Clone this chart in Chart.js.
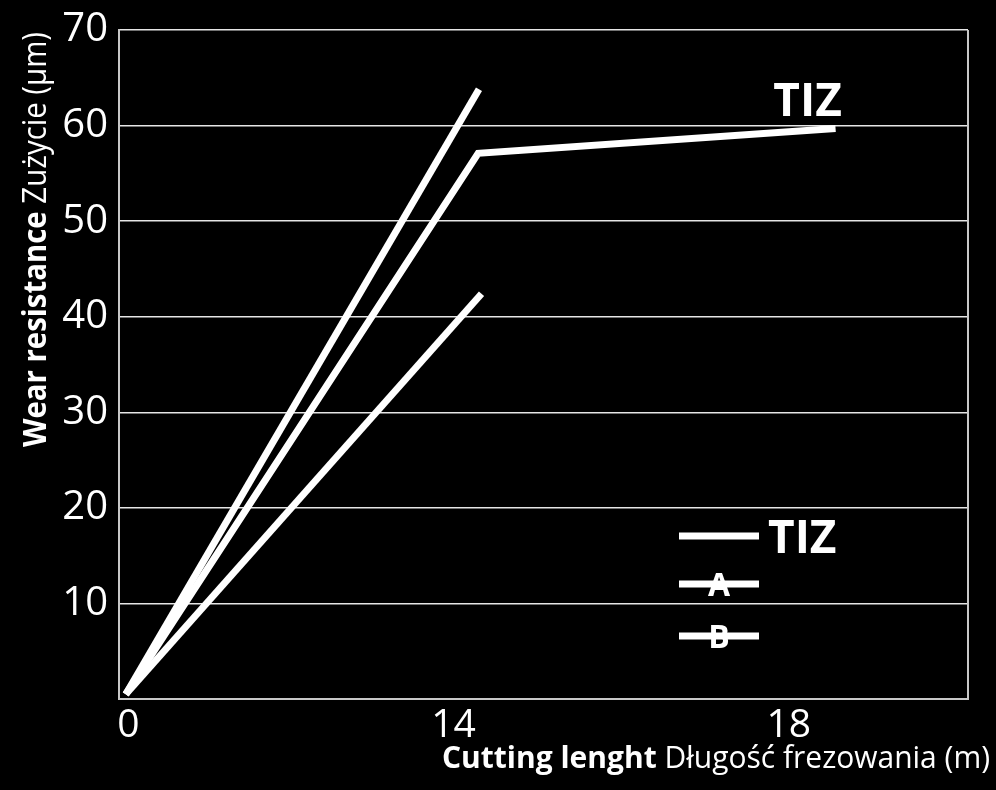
<!DOCTYPE html>
<html><head><meta charset="utf-8">
<script src="https://cdn.jsdelivr.net/npm/chart.js@4"></script>
<style>html,body{margin:0;padding:0;background:#000;} canvas{display:block;background:#000;}</style>
</head><body>
<canvas id="c" width="996" height="790"></canvas>
<script>
// ---- data ----
const seriesNames = ['TIZ', 'A', 'B'];
const tizX = [0.8, 42.3, 84.4];
const tizY = [0.5, 57.1, 59.7];
const aX = [0.8, 42.4];
const aY = [0.5, 63.8];
const bX = [0.8, 42.7];
const bY = [0.5, 42.4];
const yTicks = [10, 20, 30, 40, 50, 60, 70];
const xTickPos = [1.1, 39.4, 78.9];
const xTickLabels = ['0', '14', '18'];
const xTitleBold = 'Cutting lenght';
const xTitleRegular = ' Długość frezowania (m)';
const yTitleBold = 'Wear resistance';
const yTitleRegular = ' Zużycie (µm)';

const FONT = '"Open Sans", "DejaVu Sans", sans-serif';
const toPts = (xs, ys) => xs.map((x, i) => ({ x: x, y: ys[i] }));

const lineStyle = {
  borderColor: '#ffffff', borderWidth: 7, pointRadius: 0, showLine: true,
  tension: 0, borderCapStyle: 'butt', borderJoinStyle: 'miter', fill: false
};

const decor = {
  id: 'decor',
  afterDraw(chart) {
    const ctx = chart.ctx, a = chart.chartArea;
    ctx.save();
    // right border
    ctx.strokeStyle = '#c8c8c8'; ctx.lineWidth = 2;
    ctx.beginPath(); ctx.moveTo(a.right, a.top); ctx.lineTo(a.right, a.bottom); ctx.stroke();
    ctx.fillStyle = '#ffffff';
    ctx.textBaseline = 'alphabetic';

    // x title
    ctx.save();
    ctx.font = '700 31px ' + FONT; const wb = ctx.measureText(xTitleBold).width;
    ctx.font = '400 31px ' + FONT; const wr = ctx.measureText(xTitleRegular).width;
    ctx.translate(442, 768); ctx.scale(548 / (wb + wr), 1);
    ctx.font = '700 31px ' + FONT; ctx.fillText(xTitleBold, 0, 0);
    ctx.font = '400 31px ' + FONT; ctx.fillText(xTitleRegular, wb, 0);
    ctx.restore();

    // y title
    ctx.save();
    ctx.font = '700 33px ' + FONT; const yb = ctx.measureText(yTitleBold).width;
    ctx.font = '400 33px ' + FONT; const yr = ctx.measureText(yTitleRegular).width;
    ctx.translate(46, 447); ctx.rotate(-Math.PI / 2); ctx.scale(415 / (yb + yr), 1);
    ctx.font = '700 33px ' + FONT; ctx.fillText(yTitleBold, 0, 0);
    ctx.font = '400 33px ' + FONT; ctx.fillText(yTitleRegular, yb, 0);
    ctx.restore();

    // inline label at end of TIZ line
    const meta = chart.getDatasetMeta(0);
    const endPt = meta.data[meta.data.length - 1];
    ctx.font = '700 46px ' + FONT; ctx.textAlign = 'center';
    ctx.fillText(chart.data.datasets[0].label, endPt.x - 28, endPt.y - 12);

    // legend
    const rows = [536, 584, 636];
    chart.data.datasets.forEach((ds, i) => {
      const y = rows[i];
      ctx.strokeStyle = ds.borderColor; ctx.lineWidth = 7; ctx.lineCap = 'butt';
      ctx.beginPath(); ctx.moveTo(679, y); ctx.lineTo(759, y); ctx.stroke();
      if (i === 0) {
        ctx.textAlign = 'left'; ctx.font = '700 46px ' + FONT;
        ctx.fillText(ds.label, 768, y + 17);
      } else {
        ctx.textAlign = 'center'; ctx.font = '700 32px ' + FONT;
        ctx.fillText(ds.label, 719, y + 12);
      }
    });
    ctx.restore();
  }
};

new Chart(document.getElementById('c'), {
  type: 'scatter',
  data: {
    datasets: [
      Object.assign({ label: seriesNames[0], data: toPts(tizX, tizY) }, lineStyle),
      Object.assign({ label: seriesNames[1], data: toPts(aX, aY) }, lineStyle),
      Object.assign({ label: seriesNames[2], data: toPts(bX, bY) }, lineStyle)
    ]
  },
  options: {
    responsive: false, animation: false,
    layout: { padding: { left: 0, top: 30, right: 28, bottom: 0 } },
    plugins: { legend: { display: false }, tooltip: { enabled: false } },
    scales: {
      x: {
        type: 'linear', min: 0, max: 100,
        afterBuildTicks: s => { s.ticks = xTickPos.map(v => ({ value: v })); },
        afterFit: s => { s.height = 91; s.paddingLeft = 0; s.paddingRight = 0; },
        ticks: {
          color: '#ffffff', font: { family: FONT, size: 39 }, padding: 3, maxRotation: 0,
          autoSkip: false, callback: (v, i) => xTickLabels[i]
        },
        grid: { display: false, drawTicks: false },
        border: { display: true, color: '#c8c8c8', width: 2 }
      },
      y: {
        type: 'linear', min: 0, max: 70,
        afterBuildTicks: s => { s.ticks = [0].concat(yTicks).map(v => ({ value: v })); },
        afterFit: s => { s.width = 119; s.paddingTop = 0; s.paddingBottom = 0; },
        ticks: {
          color: '#ffffff', font: { family: FONT, size: 40 }, padding: 11,
          callback: v => (yTicks.includes(v) ? String(v) : '')
        },
        grid: { color: '#e6e6e6', lineWidth: 1.5, drawTicks: false },
        border: { display: true, color: '#c8c8c8', width: 2 }
      }
    }
  },
  plugins: [decor]
});
</script>
</body></html>
